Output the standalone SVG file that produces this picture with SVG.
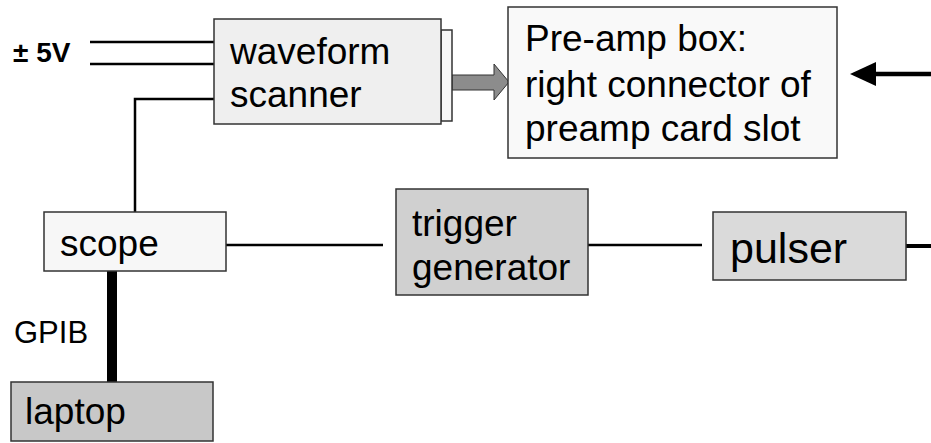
<svg xmlns="http://www.w3.org/2000/svg" width="931" height="443" viewBox="0 0 931 443">
<style>
.box{stroke:#333;stroke-width:1.5}
.t{font-family:"Liberation Sans",Arial,sans-serif;font-size:37px;fill:#000}
.w{stroke:#000;stroke-width:2.5;fill:none}
</style>
<rect width="931" height="443" fill="#fff"/>
<g id="connectors">
<line class="w" x1="90" y1="42" x2="214" y2="42"/>
<line class="w" x1="90" y1="64" x2="214" y2="64"/>
<polyline class="w" points="214,99 135,99 135,212"/>
<line class="w" x1="226" y1="245" x2="383" y2="245"/>
<line class="w" x1="588" y1="245" x2="702" y2="245"/>
<line stroke="#000" stroke-width="10" x1="112" y1="268" x2="112" y2="382"/>
<line stroke="#000" stroke-width="4" x1="906" y1="246" x2="931" y2="246"/>
<line stroke="#000" stroke-width="4.5" x1="874" y1="74" x2="931" y2="74"/>
<polygon points="850,74 876,62 876,86" fill="#000"/>
<polygon points="452,75 494,75 494,64 509,82 494,100 494,90 452,90" fill="#8c8c8c" stroke="#333" stroke-width="1"/>
</g>
<text class="t" x="13" y="62" style="font-weight:bold;font-size:28px">± 5V</text>
<text class="t" x="14" y="343" style="font-size:31px">GPIB</text>
<g id="scanner">
<rect class="box" x="441" y="30" width="11" height="91" fill="#f7f7f7"/>
<rect class="box" x="214" y="19" width="227" height="105" fill="#efefef"/>
<text class="t" x="230" y="64">waveform</text>
<text class="t" x="230" y="107">scanner</text>
</g>
<g id="preamp">
<rect class="box" x="508" y="7" width="329" height="151" fill="#f9f9f9"/>
<text class="t" x="525" y="51">Pre-amp box:</text>
<text class="t" x="525" y="97">right connector of</text>
<text class="t" x="525" y="141">preamp card slot</text>
</g>
<g id="scope">
<rect class="box" x="44" y="212" width="182" height="59" fill="#f7f7f7"/>
<text class="t" x="60" y="256">scope</text>
</g>
<g id="trigger">
<rect class="box" x="396" y="189" width="192" height="106" fill="#d0d0d0"/>
<text class="t" x="412" y="236">trigger</text>
<text class="t" x="412" y="280">generator</text>
</g>
<g id="pulser">
<rect class="box" x="713" y="212" width="193" height="68" fill="#dadada"/>
<text class="t" x="730" y="263" style="font-size:43px">pulser</text>
</g>
<g id="laptop">
<rect class="box" x="11" y="382" width="202" height="59" fill="#c8c8c8"/>
<text class="t" x="25" y="424">laptop</text>
</g>
</svg>
